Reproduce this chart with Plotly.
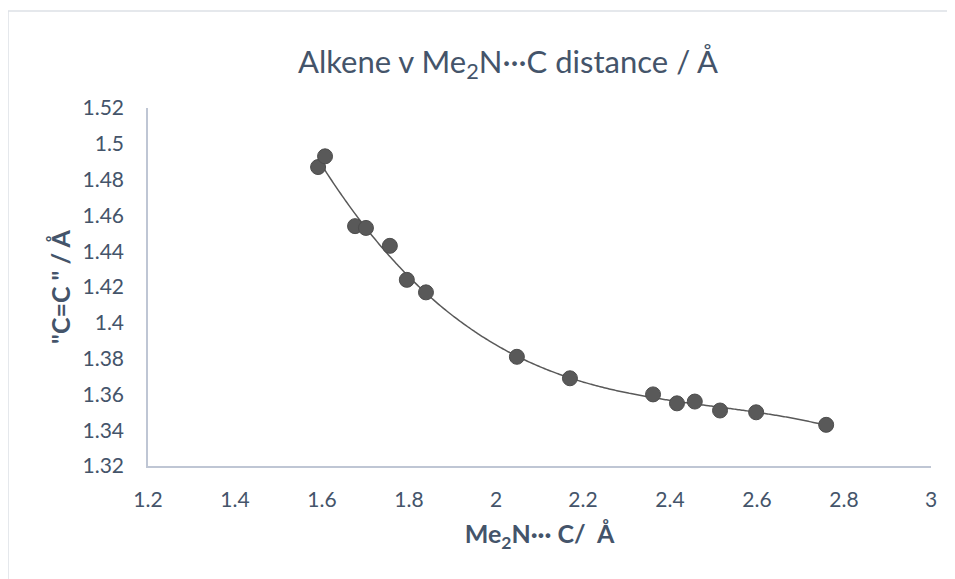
import numpy as np
import plotly.graph_objects as go

# Data
me2n_c = [1.591, 1.607, 1.676, 1.701, 1.756, 1.795, 1.839, 2.048, 2.170,
          2.361, 2.416, 2.457, 2.515, 2.598, 2.759]
c_eq_c = [1.487, 1.493, 1.454, 1.453, 1.443, 1.424, 1.417, 1.381, 1.369,
          1.360, 1.355, 1.356, 1.351, 1.350, 1.343]

x_ticks = [1.2, 1.4, 1.6, 1.8, 2.0, 2.2, 2.4, 2.6, 2.8, 3.0]
y_ticks = [1.32, 1.34, 1.36, 1.38, 1.40, 1.42, 1.44, 1.46, 1.48, 1.50, 1.52]

# Polynomial trendline fitted to the data (as Excel would)
coef = np.polyfit(me2n_c, c_eq_c, 3)
xt = np.linspace(min(me2n_c), max(me2n_c), 200)
yt = np.polyval(coef, xt)

FONT = "Lato"
TXT = "#44546A"
AX = "#BFC6D4"
MK = "#595959"

fig = go.Figure()
fig.add_trace(go.Scatter(x=xt, y=yt, mode="lines",
                         line=dict(color=MK, width=1.5, shape="spline"),
                         hoverinfo="skip", showlegend=False))
fig.add_trace(go.Scatter(x=me2n_c, y=c_eq_c, mode="markers",
                         marker=dict(color=MK, size=15,
                                     line=dict(color="#4d4d4d", width=1)),
                         showlegend=False))

OFF = 8  # browser default body margin
W, H = 955 - OFF, 579 - OFF
# plot area in page pixels
L, R, T, B = 148, 931, 108, 466
l, r, t, b = L - OFF, R - OFF, T - OFF, B - OFF


def pxx(px):
    return (px - OFF - l) / (r - l)


def pxy(py):
    return (b - (py - OFF)) / (b - t)


fig.update_layout(
    width=W, height=H,
    margin=dict(l=l, r=W - r, t=t, b=H - b),
    paper_bgcolor="white", plot_bgcolor="white",
    font=dict(family=FONT, color=TXT, size=21),
    title=dict(text="Alkene v Me<sub>2</sub>N···C distance / Å",
               x=pxx(508), xref="paper", xanchor="center",
               y=1 - (62 - OFF) / H, yanchor="middle",
               font=dict(family=FONT, size=31, color=TXT)),
    xaxis=dict(range=[1.2, 3.0], tickvals=x_ticks,
               ticktext=[("%g" % v) for v in x_ticks],
               showgrid=False, zeroline=False, showline=True,
               linecolor=AX, linewidth=1.5, ticks="",
               ticklabelstandoff=14,
               tickfont=dict(family=FONT, size=21, color=TXT),
               title=dict(text="<b>Me<sub>2</sub>N··· C/  Å</b>",
                          font=dict(family=FONT, size=25, color=TXT),
                          standoff=16)),
    yaxis=dict(range=[1.32, 1.52], tickvals=y_ticks,
               ticktext=[("%g" % v) for v in y_ticks],
               showgrid=False, zeroline=False, showline=True,
               linecolor=AX, linewidth=1.5, ticks="",
               ticklabelstandoff=18,
               tickfont=dict(family=FONT, size=21, color=TXT)),
    annotations=[
        dict(text='<b>"C=C " / Å</b>', xref="paper", yref="paper",
             x=pxx(60), y=pxy(287), xanchor="center", yanchor="middle",
             textangle=-90, showarrow=False,
             font=dict(family=FONT, size=25, color=TXT)),
    ],
    shapes=[
        dict(type="line", xref="paper", yref="paper",
             x0=pxx(8), x1=pxx(955),
             y0=pxy(11), y1=pxy(11),
             line=dict(color="#DDE1E6", width=1.5)),
        dict(type="line", xref="paper", yref="paper",
             x0=pxx(8), x1=pxx(8),
             y0=pxy(11), y1=pxy(579),
             line=dict(color="#DDE1E6", width=1.5)),
    ],
)

fig.write_html("out.html")
